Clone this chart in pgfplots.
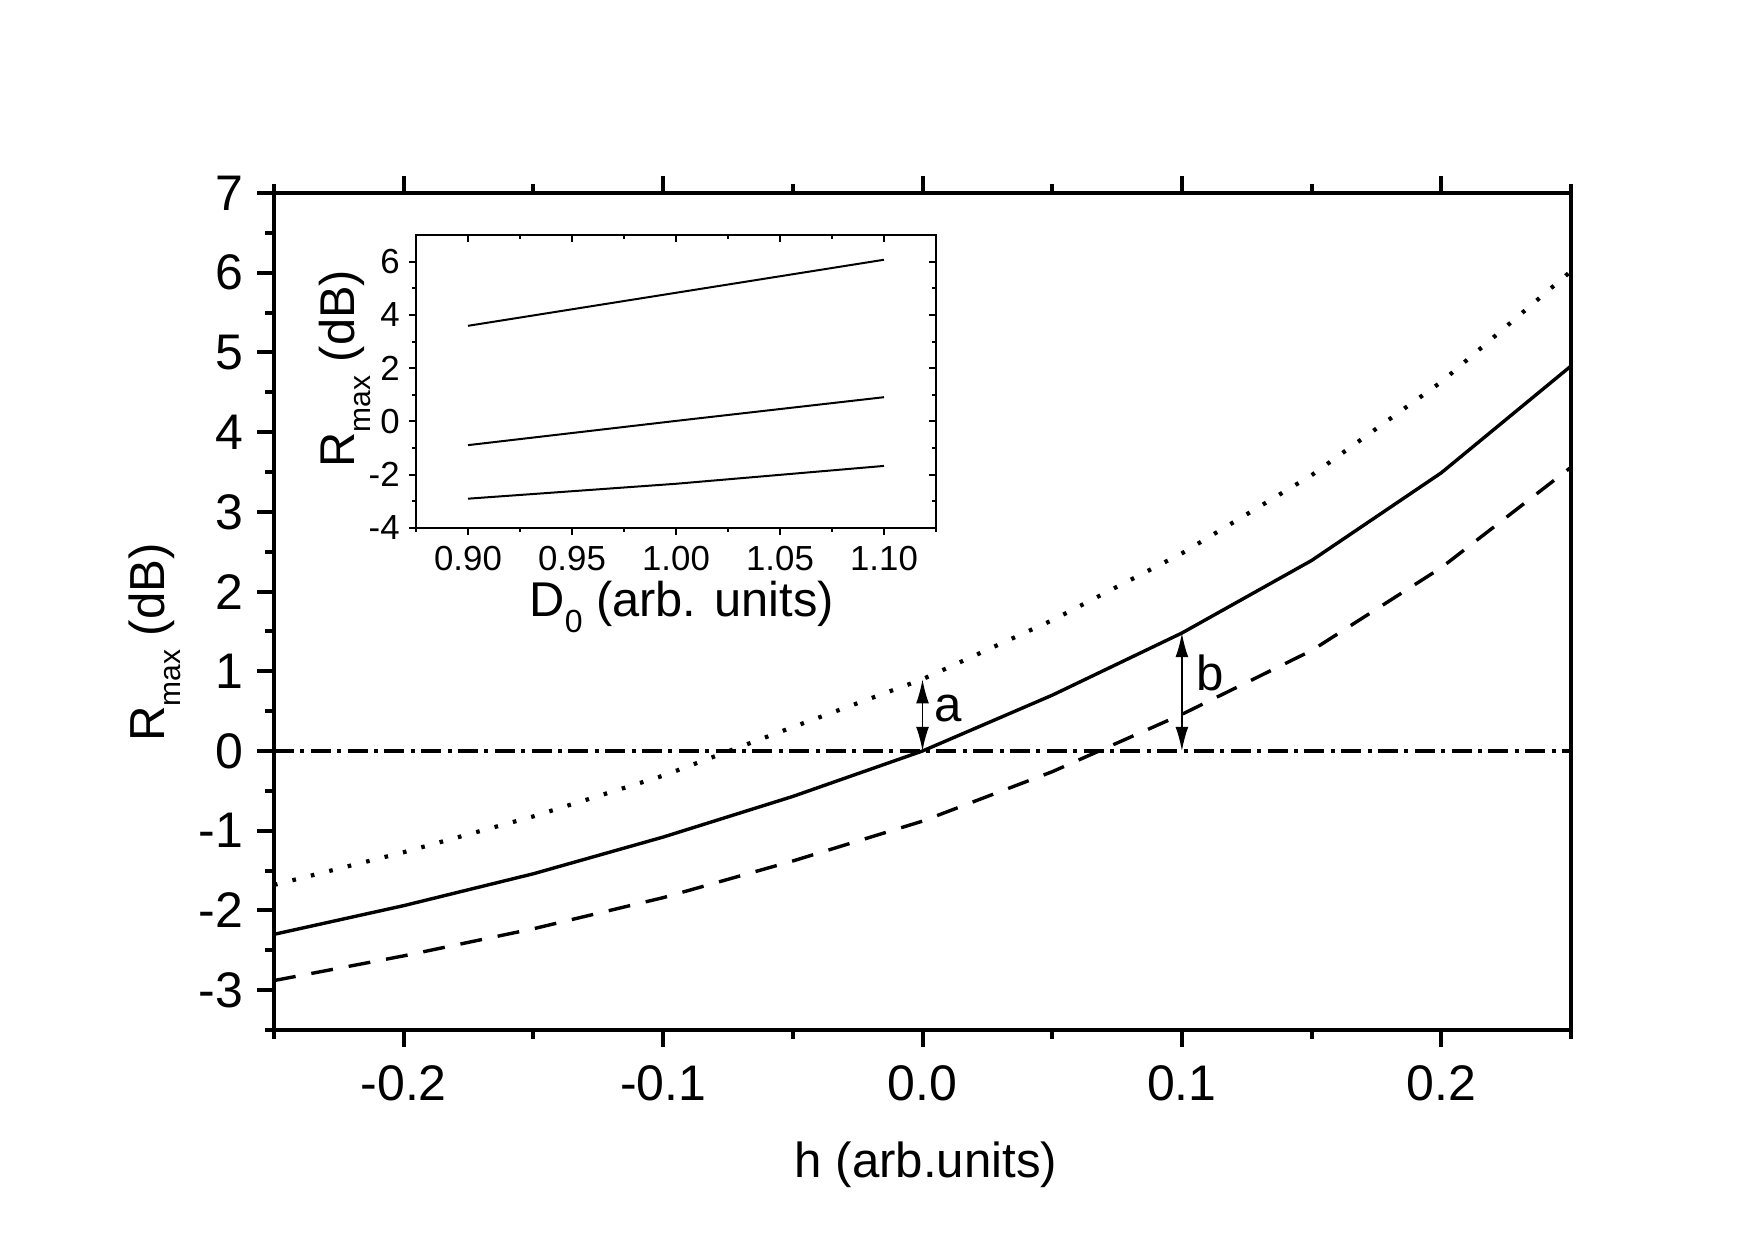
\documentclass[border=0pt]{standalone}
\usepackage{fontspec}
\setmainfont{Liberation Sans}
\usepackage{pgfplots}
\pgfplotsset{compat=1.18}
\usetikzlibrary{arrows.meta}
\newcommand{\lsub}[1]{\raisebox{-4.2pt}{\fontsize{7.5}{8}\selectfont #1}}
\newcommand{\lsubz}[1]{\raisebox{-4.0pt}{\fontsize{8}{9}\selectfont #1}}
\begin{document}
\begin{tikzpicture}
\path[use as bounding box] (0,0) rectangle (438.75pt,310pt);
\begin{axis}[
  at={(68.5pt,52.5pt)}, anchor=south west,
  scale only axis, width=324.25pt, height=209.25pt,
  xmin=-0.25, xmax=0.25, ymin=-3.5, ymax=7,
  xtick={-0.2,-0.1,0,0.1,0.2}, xticklabels={-0.2,-0.1,0.0,0.1,0.2},
  ytick={-3,-2,-1,0,1,2,3,4,5,6,7}, yticklabels={-3,-2,-1,0,1,2,3,4,5,6,7},
  minor xtick={-0.25,-0.15,-0.05,0.05,0.15,0.25},
  minor ytick={-3.5,-2.5,-1.5,-0.5,0.5,1.5,2.5,3.5,4.5,5.5,6.5},
  xtick pos=both, ytick pos=left,
  tick align=outside,
  major tick length=4.25pt, minor tick length=2.25pt,
  every tick/.style={black, line width=1pt},
  axis line style={line width=1.1pt},
  tick label style={font=\fontsize{12.5}{14}\selectfont},
  xticklabel style={yshift=-1pt},
  label style={font=\fontsize{12.3}{14}\selectfont},
  xlabel={h (arb.units)},
  xlabel style={at={(axis description cs:0.5027,-0.1768)}, anchor=base},
  ylabel={R\lsub{max} (dB)},
  ylabel style={at={(axis description cs:-0.0848,0.463)}, anchor=base},
]
\addplot[black, line width=0.8pt, dash pattern=on 5pt off 1.6pt on 1pt off 1.6pt] coordinates {(-0.25,0) (0.252,0)};
\addplot[black, line width=0.85pt] coordinates {
(-0.25,-2.30) (-0.2,-1.94) (-0.15,-1.54) (-0.1,-1.08) (-0.05,-0.57) (0,0)
(0.05,0.70) (0.1,1.48) (0.15,2.39) (0.2,3.49) (0.25,4.83)};
\addplot[black, line width=1.05pt, dash pattern=on 0.9pt off 3.85pt] coordinates {
(-0.25,-1.68) (-0.2,-1.27) (-0.15,-0.82) (-0.1,-0.31) (-0.05,0.30) (0,0.90)
(0.05,1.64) (0.1,2.48) (0.15,3.46) (0.2,4.63) (0.25,6.02)};
\addplot[black, line width=0.85pt, dash pattern=on 5.5pt off 4pt] coordinates {
(-0.25,-2.88) (-0.2,-2.57) (-0.15,-2.23) (-0.1,-1.84) (-0.05,-1.38) (0,-0.88)
(0.05,-0.26) (0.1,0.46) (0.15,1.26) (0.2,2.30) (0.25,3.56)};
\draw[black, line width=0.4pt, {Latex[length=6pt,width=3.2pt]}-{Latex[length=6pt,width=3.2pt]}] (axis cs:0,0) -- (axis cs:0,0.9);
\draw[black, line width=0.4pt, {Latex[length=6pt,width=3.2pt]}-{Latex[length=6pt,width=3.2pt]}] (axis cs:0.1,0) -- (axis cs:0.1,1.48);
\node[font=\fontsize{12.3}{14}\selectfont, anchor=center, inner sep=0pt] at (axis cs:0.0098,0.53) {a};
\node[font=\fontsize{12.3}{14}\selectfont, anchor=center, inner sep=0pt] at (axis cs:0.1108,0.985) {b};
\end{axis}
% inset
\begin{axis}[
  at={(104pt,178pt)}, anchor=south west,
  scale only axis, width=130pt, height=73.25pt,
  axis background/.style={fill=white},
  xmin=0.875, xmax=1.125, ymin=-4, ymax=7,
  xtick={0.9,0.95,1,1.05,1.1}, xticklabels={0.90,0.95,1.00,1.05,1.10},
  ytick={-4,-2,0,2,4,6}, yticklabels={-4,-2,0,2,4,6},
  minor xtick={0.875,0.925,0.975,1.025,1.075,1.125},
  minor ytick={-3,-1,1,3,5},
  xtick pos=left, ytick pos=left,
  tick align=outside,
  major tick length=1.75pt, minor tick length=1pt,
  every tick/.style={black, line width=0.5pt},
  axis line style={line width=0.5pt},
  tick label style={font=\fontsize{8.7}{10}\selectfont},
  xticklabel style={yshift=0.8pt},
  yticklabel style={xshift=1.2pt},
  label style={font=\fontsize{12.2}{14}\selectfont},
  xlabel={D\lsubz{0} (arb. units)},
  xlabel style={at={(axis description cs:0.511,-0.303)}, anchor=base},
  ylabel={R\lsub{max} (dB)},
  ylabel style={at={(axis description cs:-0.119,0.543)}, anchor=base},
]
\addplot[black, line width=0.5pt] coordinates {(0.90,3.59) (1.00,4.83) (1.10,6.07)};
\addplot[black, line width=0.5pt] coordinates {(0.90,-0.89) (1.00,0.02) (1.10,0.91)};
\addplot[black, line width=0.5pt] coordinates {(0.90,-2.90) (1.00,-2.34) (1.10,-1.67)};
\end{axis}
\begin{axis}[
  at={(104pt,178pt)}, anchor=south west,
  scale only axis, width=130pt, height=73.25pt,
  xmin=0.875, xmax=1.125, ymin=-4, ymax=7,
  xtick={0.9,0.95,1,1.05,1.1}, xticklabels={},
  ytick={-4,-2,0,2,4,6}, yticklabels={},
  minor xtick={0.875,0.925,0.975,1.025,1.075,1.125},
  minor ytick={-3,-1,1,3,5},
  xtick pos=right, ytick pos=right,
  tick align=inside,
  major tick length=1.75pt, minor tick length=1pt,
  every tick/.style={black, line width=0.5pt},
  axis line style={line width=0.5pt},
]
\end{axis}
\end{tikzpicture}
\end{document}
